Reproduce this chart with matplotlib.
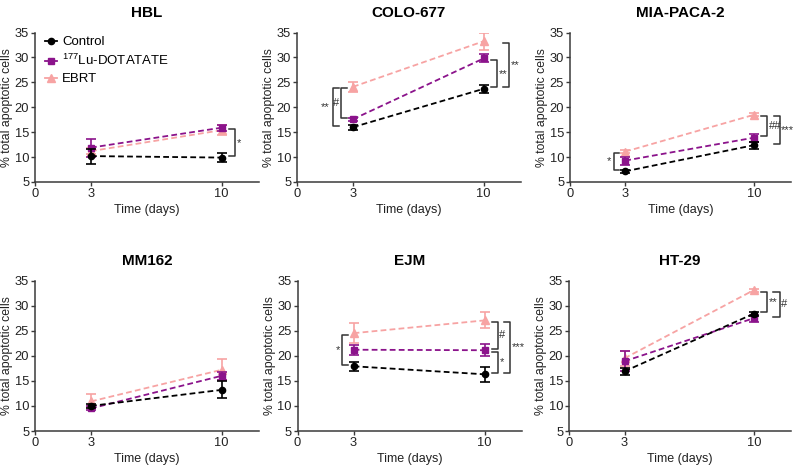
import matplotlib
matplotlib.use("Agg")
import matplotlib.pyplot as plt
from matplotlib.lines import Line2D

plt.rcParams['font.family'] = ['Liberation Sans', 'DejaVu Sans']
plt.rcParams['mathtext.fontset'] = 'custom'
plt.rcParams['mathtext.rm'] = 'Liberation Sans'

# ---------------- data ----------------
days = [3, 10]
cell_lines = ["HBL", "COLO-677", "MIA-PACA-2", "MM162", "EJM", "HT-29"]
series_names = ["Control", r"$\mathregular{^{177}}$Lu-DOTATATE", "EBRT"]

control_mean = [[10.2, 9.9], [16.0, 23.7], [7.15, 12.4], [10.0, 13.2], [17.9, 16.3], [16.9, 28.4]]
control_err = [[1.5, 0.9], [0.5, 0.8], [0.3, 0.7], [0.4, 1.7], [0.9, 1.5], [0.7, 0.4]]
lu_mean = [[11.9, 15.9], [17.6, 29.8], [9.3, 13.9], [9.5, 16.0], [21.2, 21.1], [18.9, 27.5]]
lu_err = [[1.8, 0.6], [0.3, 0.8], [0.8, 0.8], [0.4, 0.8], [1.0, 1.2], [2.0, 0.7]]
ebrt_mean = [[11.2, 15.4], [24.1, 33.25], [11.1, 18.5], [10.9, 17.2], [24.5, 27.05], [19.5, 33.1]]
ebrt_err = [[0.6, 1.0], [1.0, 1.7], [0.3, 0.3], [1.4, 2.1], [2.0, 1.6], [1.5, 0.3]]

# significance brackets: (panel, day, series_top, series_bottom, label, level)
brackets = [
    (0, 10, 1, 0, "*", 0),
    (1, 3, 2, 1, "#", 0),
    (1, 3, 2, 0, "**", 1),
    (1, 10, 1, 0, "**", 0),
    (1, 10, 2, 0, "**", 1),
    (2, 3, 2, 0, "*", 0),
    (2, 10, 2, 1, "##", 0),
    (2, 10, 2, 0, "***", 1),
    (4, 3, 2, 0, "*", 0),
    (4, 10, 2, 1, "#", 0),
    (4, 10, 1, 0, "*", 0),
    (4, 10, 2, 0, "***", 1),
    (5, 10, 2, 0, "**", 0),
    (5, 10, 2, 1, "#", 1),
]

# ---------------- style ----------------
colors = ["#000000", "#8b138b", "#f7a3a3"]
markers = ["o", "s", "^"]
msizes = [4.5, 4.5, 5.5]
spine_col = "#3a3a3a"

W, H = 797, 466
fig = plt.figure(figsize=(W / 100, H / 100), dpi=100)

rects = [
    (35, 32.5, 259, 182), (297, 32.5, 521, 182), (570, 32.5, 791, 182),
    (35, 280.5, 259, 431), (297.5, 280.5, 522, 431), (569, 280.5, 791, 431),
]

all_means = list(zip(control_mean, lu_mean, ebrt_mean))
all_errs = list(zip(control_err, lu_err, ebrt_err))

axes = []
for i, (l, t, r, b) in enumerate(rects):
    ax = fig.add_axes([l / W, 1 - b / H, (r - l) / W, (b - t) / H])
    axes.append(ax)
    means = all_means[i]
    errs = all_errs[i]
    for s in [2, 1, 0]:
        ax.errorbar(days, means[s], yerr=errs[s], color=colors[s], marker=markers[s],
                    ms=msizes[s], ls=(0, (3.2, 1.8)), lw=1.3, elinewidth=1.2,
                    capsize=3.3, capthick=1.2, zorder=3 + (2 - s))
    ax.set_xlim(0, 12)
    ax.set_ylim(5, 35)
    ax.set_xticks([0, 3, 10])
    ax.set_yticks([5, 10, 15, 20, 25, 30, 35])
    for sp in ["top", "right"]:
        ax.spines[sp].set_visible(False)
    for sp in ["left", "bottom"]:
        ax.spines[sp].set_color(spine_col)
        ax.spines[sp].set_linewidth(1.1)
    ax.tick_params(direction="out", length=3, width=1.0, color=spine_col,
                   labelsize=9.3, labelcolor="#222222", pad=1.2)
    ax.set_xlabel("Time (days)", fontsize=9, color="#222222", labelpad=3)
    ax.set_ylabel("% total apoptotic cells", fontsize=8.8, color="#222222", labelpad=1)
    ax.set_title(cell_lines[i], fontsize=11, fontweight="bold", pad=11)

# brackets
for (p, d, st, sb, lab, lev) in brackets:
    ax = axes[p]
    di = days.index(d)
    y1 = all_means[p][st][di] - 0.3
    y0 = all_means[p][sb][di] + 0.3
    if d == 10:
        xv = 10.72 + 0.66 * lev
        xe = xv - 0.33
        ax.plot([xe, xv, xv, xe], [y1, y1, y0, y0], color="#333333", lw=1.1, clip_on=False)
        ax.text(xv + 0.07, (y0 + y1) / 2, lab, ha="left", va="center",
                fontsize=8, color="#333333")
    else:
        xv = 2.38 - 0.44 * lev
        xe = xv + 0.3
        ax.plot([xe, xv, xv, xe], [y1, y1, y0, y0], color="#333333", lw=1.1, clip_on=False)
        ax.text(xv - 0.12 - 0.08 * lev, (y0 + y1) / 2, lab, ha="right", va="center",
                fontsize=8, color="#333333")

# legend in first panel
handles = [Line2D([0], [0], color=colors[s], marker=markers[s], ms=msizes[s], lw=1.3)
           for s in range(3)]
axes[0].legend(handles, series_names, loc="upper left", bbox_to_anchor=(0.045, 0.975),
               frameon=False, fontsize=9.5, handlelength=0.9, handletextpad=0.4,
               borderaxespad=0, borderpad=0, labelspacing=0.35)

fig.savefig("out.png", dpi=100)
